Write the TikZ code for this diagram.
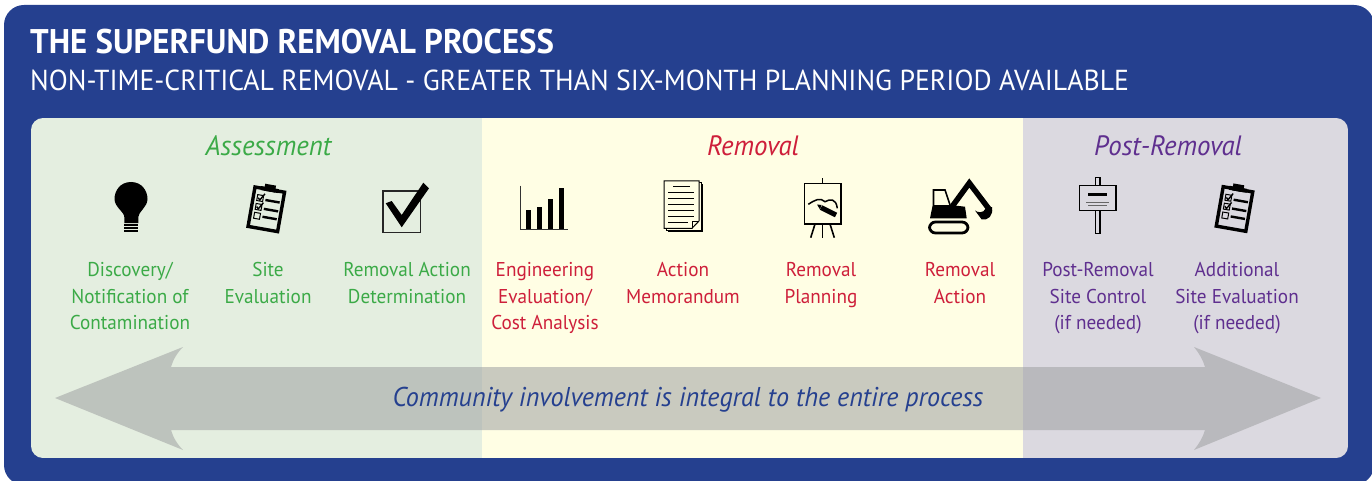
\documentclass[tikz,border=0pt]{standalone}
\usepackage{fontspec}
\setmainfont{PT Sans}[FakeStretch=0.96]
\usetikzlibrary{arrows}
\usetikzlibrary{shapes}

\definecolor{frameblue}{HTML}{25408F}
\definecolor{assesspanel}{HTML}{E4EEE0}
\definecolor{removalpanel}{HTML}{FFFEE4}
\definecolor{postpanel}{HTML}{DBD9E0}
\definecolor{assessgreen}{HTML}{3BAA47}
\definecolor{removalred}{HTML}{CE1F3A}
\definecolor{postpurple}{HTML}{5F2F8F}
\definecolor{arrowgray}{HTML}{9EA0A1}

\tikzset{
    heading/.style={inner sep=0pt, anchor=base west, text=white},
    phase/.style={inner sep=0pt, font=\fontsize{28}{32}\selectfont\itshape},
    steplabel/.style={inner sep=0pt, anchor=north, align=center, font=\fontsize{20}{26.2}\selectfont},
    clipboard/.pic={
        \draw[line width=3.4] (-15,-20) rectangle (15,20);
        \fill (-5.5,-25) rectangle (5.5,-18);
        \fill (-9,-22) rectangle (9,-18);
        \foreach \y in {-10,-1} {
            \draw[line width=1] (-11,\y-3) rectangle (-5,\y+3);
            \draw[line width=1.4] (-10,\y) -- (-8,\y+2) -- (-4,\y-5);
        }
        \draw[line width=1] (-11,5) rectangle (-5,11);
        \foreach \y in {-9,0,8} {
            \draw[line width=2.4] (-2.5,\y) -- (12,\y);
        }
    }
}

\begin{document}
\begin{tikzpicture}[x=1pt, y=-1pt]
    \useasboundingbox (0,0) rectangle (1372,481);
    \fill[frameblue, rounded corners=20] (4,5) rectangle (1374,485);

    \begin{scope}
        \clip[rounded corners=12] (31,118) rectangle (1348,458);
        \fill[assesspanel] (31,118) rectangle (482,458);
        \fill[removalpanel] (482,118) rectangle (1023,458);
        \fill[postpanel] (1023,118) rectangle (1348,458);
    \end{scope}

    \node[heading, font=\fontsize{34.2}{40}\selectfont\bfseries] (title) at (30,54) {THE SUPERFUND REMOVAL PROCESS};
    \node[heading, font=\fontsize{28.9}{34}\selectfont] (subtitle) at (30,91) {NON-TIME-CRITICAL REMOVAL - GREATER THAN SIX-MONTH PLANNING PERIOD AVAILABLE};

    \node[phase, text=assessgreen] (assessment) at (268.5,146) {Assessment};
    \node[phase, text=removalred] (removal) at (753,146) {Removal};
    \node[phase, text=postpurple] (postremoval) at (1168,146) {Post-Removal};

    % bulb
    \fill (131,182) .. controls (120,182) and (114.5,191) .. (114.5,199)
        .. controls (114.5,207) and (124.3,212) .. (124.3,217) -- (124.3,223) -- (138.3,223) -- (138.3,217)
        .. controls (138.3,212) and (147.5,207) .. (147.5,199)
        .. controls (147.5,191) and (142,182) .. (131,182) -- cycle;
    \foreach \y in {225,228,231} {
        \draw[line width=1.8] (124,\y) -- (138,\y);
    }

    \pic[rotate=-10] at (266.3,209.3) {clipboard};

    % check box
    \draw[line width=1.5, black!85] (383,191) rectangle (420.5,232.5);
    \fill (385.7,203.3) -- (391.7,201) -- (401.7,215) -- (423.3,182.7) -- (429,188.3) -- (401.7,227.3) -- cycle;

    % bar chart
    \draw[line width=0.8, black!80] (520,185.7) -- (520,229.3) -- (567.7,229.3);
    \fill (526,210) rectangle (531,229);
    \fill (537,206.7) rectangle (542,229);
    \fill (548,199.3) rectangle (553,229);
    \fill (559,188.3) rectangle (564,229);

    % memo
    \draw[line width=1, fill=removalpanel] (668,185) rectangle (702.7,231.7);
    \draw[line width=1, fill=removalpanel] (666,183) rectangle (701,230);
    \draw[line width=1, fill=removalpanel] (664,181) -- (699,181) -- (699,221) -- (692,228.3) -- (664,228.3) -- cycle;
    \draw[line width=0.8] (692,228.3) -- (692,221) -- (699,221);
    \draw[line width=1] (673.3,186.3) -- (690,186.3);
    \foreach \y in {192.7,198.7,204.7,210.7,216.7} {
        \draw[line width=1] (668.3,\y) -- (694.3,\y);
    }
    \draw[line width=1] (668.3,222.3) -- (687.7,222.3);

    % easel
    \draw[line width=1.4] (822.3,178.3) -- (822.3,183.3);
    \draw[line width=1.4] (804.3,183.3) rectangle (841,224);
    \draw[line width=1.6] (815,224) -- (810.7,237.7);
    \draw[line width=1.6] (822.3,224) -- (822.3,237.7);
    \draw[line width=1.6] (830,224) -- (834.3,237.7);
    \draw[line width=1.5] (808.3,204.3) .. controls (815,200) and (820,197) .. (825,201.7)
        .. controls (830,199) and (836,198) .. (837.3,208.3);
    \draw[line width=5] (821,207.5) -- (836,215);
    \fill (821.5,205) -- (817,204.5) -- (820,209.5) -- cycle;

    % excavator
    \draw[line width=2.8, rounded corners=6] (929.5,222) rectangle (968,233);
    \fill (930,218.3) -- (932.7,205) -- (950,205) -- (965,206.7) -- (966.7,218.3) -- cycle;
    \draw[line width=1.6] (933.5,205) -- (933.5,190) -- (945,190) -- (950,205);
    \draw[line width=5.5, miter limit=2] (952.5,206) -- (969.3,183) -- (989,209);
    \fill (992,207) .. controls (993.5,216) and (988,220.5) .. (981.7,219.5)
        -- (975,210.5) .. controls (978,212.5) and (983,214) .. (986,208) -- cycle;

    % sign
    \draw[line width=1.2] (1095.3,177.7) rectangle (1100,233.3);
    \draw[line width=1.2, fill=postpanel] (1079.3,185.3) rectangle (1116,210.7);
    \draw[line width=3] (1088.3,194) -- (1106.7,194);
    \draw[line width=0.6, black!60] (1086,202.3) -- (1109,202.3);
    \draw[line width=0.6, black!60] (1088.3,205) -- (1106.7,205);

    \pic[rotate=-10] at (1234.5,209) {clipboard};

    \node[steplabel, text=assessgreen] (discovery) at (130,262.5) {Discovery/\\Notification of\\Contamination};
    \node[steplabel, text=assessgreen] (siteeval) at (268,262.5) {Site\\Evaluation};
    \node[steplabel, text=assessgreen] (determination) at (407,262.5) {Removal Action\\Determination};
    \node[steplabel, text=removalred] (eeca) at (545,262.5) {Engineering\\Evaluation/\\Cost Analysis};
    \node[steplabel, text=removalred] (memorandum) at (683,262.5) {Action\\Memorandum};
    \node[steplabel, text=removalred] (planning) at (821,262.5) {Removal\\Planning};
    \node[steplabel, text=removalred] (action) at (960,262.5) {Removal\\Action};
    \node[steplabel, text=postpurple] (sitecontrol) at (1098,262.5) {Post-Removal\\Site Control\\(if needed)};
    \node[steplabel, text=postpurple] (addeval) at (1237,262.5) {Additional\\Site Evaluation\\(if needed)};

    \fill[arrowgray, opacity=0.55] (55,398) -- (183,347) .. controls (177,353) and (173,360) .. (171,367)
        -- (1205,367) .. controls (1203,360) and (1199,353) .. (1194,347) -- (1321,398) -- (1194,450)
        .. controls (1199,444) and (1203,437) .. (1205,430) -- (171,430)
        .. controls (173,437) and (177,444) .. (183,450) -- cycle;

    \node[inner sep=0pt, text=frameblue, font=\fontsize{27.2}{32}\selectfont\itshape] (community) at (688,399.5) {Community involvement is integral to the entire process};
\end{tikzpicture}
\end{document}
